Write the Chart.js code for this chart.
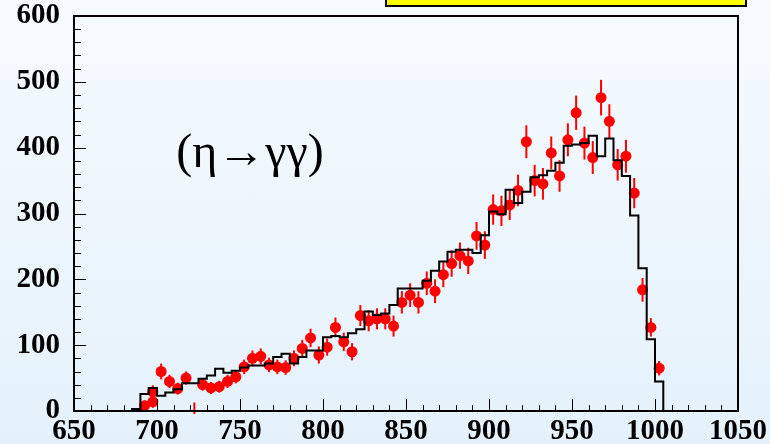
<!DOCTYPE html>
<html>
<head>
<meta charset="utf-8">
<title>eta to gamma gamma mass spectrum</title>
<script src="https://cdn.jsdelivr.net/npm/chart.js@4.4.1/dist/chart.umd.min.js"></script>
<style>
  html, body { margin: 0; padding: 0; }
  body {
    width: 770px; height: 444px; overflow: hidden; position: relative;
    background: linear-gradient(to bottom, #f6fbff 0%, #e4f1fb 100%);
  }
  #tag {
    position: absolute; left: 385px; top: -10px; width: 358px; height: 13px;
    background: #ffff00; border: 2px solid #000;
  }
  #myChart { position: absolute; left: 0; top: 0; }
</style>
</head>
<body>
<div id="tag"></div>
<canvas id="myChart" width="770" height="444"></canvas>
<script>
// tick labels
const xTicks = [650, 700, 750, 800, 850, 900, 950, 1000, 1050];
const yTicks = [0, 100, 200, 300, 400, 500, 600];

// simulated spectrum: 5 MeV bins starting at 685
const histLow = 685;
const histBin = 5;
const histCounts = [
  3, 26, 35, 23, 28, 33, 42, 42, 49, 54,
  64, 58, 61, 66, 69, 69, 72, 82, 87, 72,
  82, 92, 92, 112, 114, 112, 118, 124, 151, 146,
  148, 161, 186, 186, 186, 198, 213, 227, 242, 245,
  245, 240, 267, 303, 299, 336, 316, 333, 355, 358,
  365, 377, 403, 405, 407, 418, 387, 414, 381, 357,
  297, 217, 109, 45
];

// measured points
const dataMass = [
  692.5, 697.5, 697.5, 702.5, 707.5, 712.5, 717.5, 722.5, 727.5, 732.5,
  737.5, 742.5, 747.5, 752.5, 757.5, 762.5, 767.5, 772.5, 777.5, 782.5,
  787.5, 792.5, 797.5, 802.5, 807.5, 812.5, 817.5, 822.5, 827.5, 832.5,
  837.5, 842.5, 847.5, 852.5, 857.5, 862.5, 867.5, 872.5, 877.5, 882.5,
  887.5, 892.5, 897.5, 902.5, 907.5, 912.5, 917.5, 922.5, 927.5, 932.5,
  937.5, 942.5, 947.5, 952.5, 957.5, 962.5, 967.5, 972.5, 977.5, 982.5,
  987.5, 992.5, 997.5, 1002.5
];
const dataCounts = [
  8, 14, 29, 60, 45, 34, 50, 0, 40, 35,
  37, 45, 52, 67, 80, 83, 70, 67, 66, 80,
  95, 111, 85, 97, 127, 105, 90, 145, 137, 140,
  140, 129, 165, 176, 165, 194, 182, 207, 224, 236,
  228, 266, 252, 306, 304, 313, 335, 409, 350, 345,
  392, 357, 412, 453, 407, 385, 476, 440, 374, 387,
  331, 184, 127, 65
];
const dataErrors = [
  8, 9, 10, 12, 10, 9, 10, 13, 9, 9,
  9, 10, 10, 11, 12, 12, 11, 11, 11, 12,
  13, 14, 13, 13, 15, 14, 13, 16, 16, 16,
  16, 16, 17, 18, 17, 18, 18, 19, 20, 20,
  20, 21, 21, 23, 23, 23, 24, 25, 24, 24,
  25, 24, 25, 26, 25, 25, 27, 26, 24, 25,
  23, 18, 14, 11
];

const histPoints = [{ x: histLow, y: 0 }];
histCounts.forEach((c, i) => histPoints.push({ x: histLow + i * histBin, y: c }));
const histHigh = histLow + histCounts.length * histBin;
histPoints.push({ x: histHigh, y: histCounts[histCounts.length - 1] });
histPoints.push({ x: histHigh, y: 0 });

const points = dataMass.map((m, i) => ({ x: m, y: dataCounts[i] }));

const tickFont = { family: '"Liberation Serif", "Times New Roman", serif', size: 29, weight: 'bold' };
// tiny line height keeps the y labels from pushing the frame down
const yTickFont = Object.assign({}, tickFont, { lineHeight: 0.1 });
const plainNumber = v => String(v);

// vertical error bars under the markers
const errorBars = {
  id: 'errorBars',
  beforeDatasetsDraw(chart) {
    const { ctx, chartArea: a, scales: { x, y } } = chart;
    ctx.save();
    ctx.beginPath();
    ctx.rect(a.left, a.top, a.width, a.height + 3);
    ctx.clip();
    ctx.strokeStyle = '#ff0000';
    ctx.lineWidth = 2;
    dataMass.forEach((m, i) => {
      const px = x.getPixelForValue(m);
      ctx.beginPath();
      ctx.moveTo(px, y.getPixelForValue(dataCounts[i] - dataErrors[i]));
      ctx.lineTo(px, y.getPixelForValue(dataCounts[i] + dataErrors[i]));
      ctx.stroke();
    });
    ctx.restore();
  }
};

// frame, inward ticks and the channel label
const frame = {
  id: 'frame',
  afterDraw(chart) {
    const { ctx, chartArea: a, scales: { x, y } } = chart;
    ctx.save();
    ctx.strokeStyle = '#000';
    ctx.lineWidth = 1;
    for (let v = xTicks[0]; v <= xTicks[xTicks.length - 1]; v += 10) {
      const px = Math.round(x.getPixelForValue(v)) + 0.5;
      const len = v % 50 === 0 ? 12 : 6;
      ctx.beginPath();
      ctx.moveTo(px, a.bottom);
      ctx.lineTo(px, a.bottom - len);
      ctx.stroke();
    }
    for (let v = yTicks[0]; v <= yTicks[yTicks.length - 1]; v += 20) {
      const py = Math.round(y.getPixelForValue(v)) + 0.5;
      const len = v % 100 === 0 ? 12 : 7;
      ctx.beginPath();
      ctx.moveTo(a.left, py);
      ctx.lineTo(a.left + len, py);
      ctx.stroke();
    }
    ctx.lineWidth = 2;
    ctx.strokeRect(a.left, a.top, a.width, a.height);

    ctx.fillStyle = '#000';
    ctx.font = '48px "Liberation Serif", "Times New Roman", serif';
    ctx.textAlign = 'center';
    ctx.textBaseline = 'middle';
    ctx.fillText('(η→γγ)', x.getPixelForValue(756), y.getPixelForValue(390));
    ctx.restore();
  }
};

new Chart(document.getElementById('myChart'), {
  data: {
    datasets: [
      {
        type: 'line',
        data: histPoints,
        stepped: 'before',
        borderColor: '#000',
        borderWidth: 2,
        pointRadius: 0,
        fill: false,
        order: 0
      },
      {
        type: 'scatter',
        data: points,
        backgroundColor: '#ff0000',
        borderColor: '#ff0000',
        borderWidth: 0,
        pointRadius: c => (c.raw && c.raw.y > 0 ? 5.5 : 0),
        clip: 0,
        order: 1
      }
    ]
  },
  options: {
    responsive: false,
    animation: false,
    events: [],
    layout: { padding: { top: 16, right: 27, left: 0, bottom: 0 } },
    plugins: { legend: { display: false }, tooltip: { enabled: false } },
    scales: {
      x: {
        type: 'linear',
        min: xTicks[0],
        max: xTicks[xTicks.length - 1],
        ticks: { stepSize: 50, font: tickFont, color: '#000', padding: 3, maxRotation: 0, autoSkip: false, callback: plainNumber },
        grid: { display: false, drawTicks: false },
        border: { display: false },
        afterFit(s) { s.height = 33; }
      },
      y: {
        type: 'linear',
        min: yTicks[0],
        max: yTicks[yTicks.length - 1],
        ticks: { stepSize: 100, font: yTickFont, color: '#000', padding: 14, callback: plainNumber },
        grid: { display: false, drawTicks: false },
        border: { display: false },
        afterFit(s) { s.width = 74; }
      }
    }
  },
  plugins: [errorBars, frame]
});
</script>
</body>
</html>
